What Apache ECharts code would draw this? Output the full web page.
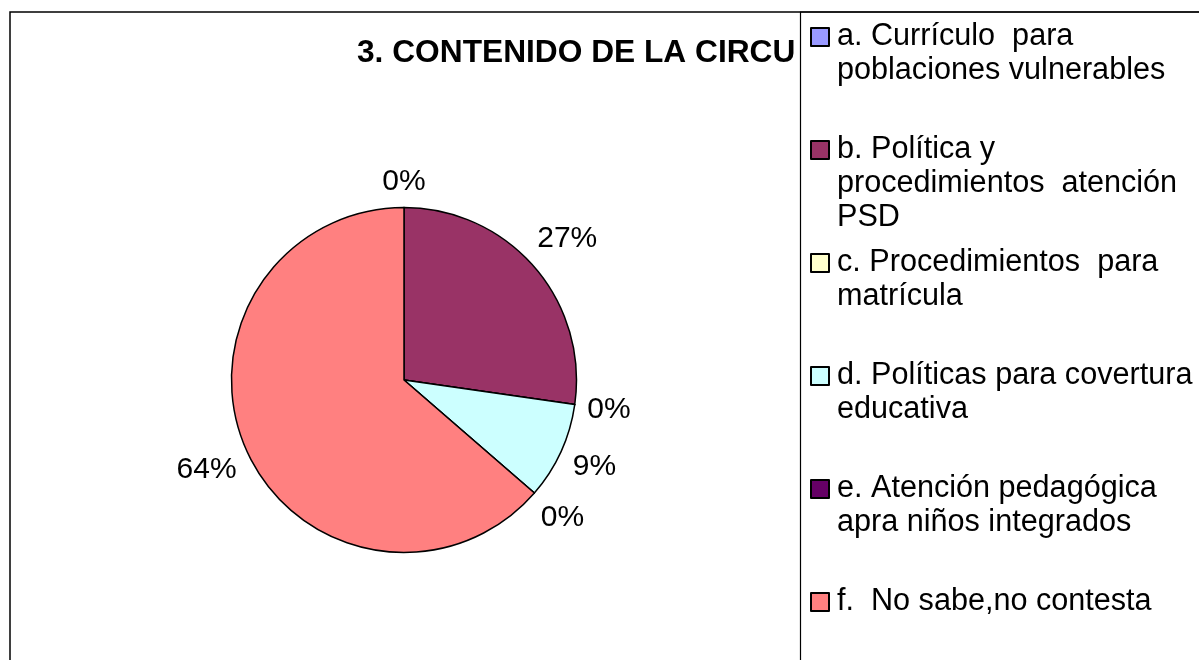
<!DOCTYPE html>
<html>
<head>
<meta charset="utf-8">
<script src="https://cdn.jsdelivr.net/npm/echarts@6/dist/echarts.min.js"></script>
<style>
  html, body { margin: 0; padding: 0; background: #fff; }
  #chart { width: 1199px; height: 660px; }
</style>
</head>
<body>
<div id="chart"></div>
<script>
// data
const categories = [
    "a. Currículo  para\npoblaciones vulnerables",
    "b. Política y\nprocedimientos  atención\nPSD",
    "c. Procedimientos  para\nmatrícula",
    "d. Políticas para covertura\neducativa",
    "e. Atención pedagógica\napra niños integrados",
    "f.  No sabe,no contesta"
];
const counts = [0, 3, 0, 1, 0, 7];
const sliceColors = ["#9999FF", "#993366", "#FFFFCC", "#CCFFFF", "#660066", "#FF8080"];
const titleText = "3. CONTENIDO DE LA CIRCU";

const FONT = "Liberation Sans";
const LINE = 34;        // legend line height
const ROW = 113;        // distance between legend icons
const LABEL_GAP = 11;   // gap between pie edge and label box

const chart = echarts.init(document.getElementById("chart"));

const pieData = categories.map((name, i) => ({
    name: name,
    value: counts[i],
    itemStyle: { color: sliceColors[i] }
}));

// legend text is centred on its icon, so pad every entry to 5 lines
// with the first real line in the middle
const BLANK = "\u00a0";
function legendText(name) {
    const lines = name.split("\n");
    const out = [BLANK, BLANK].concat(lines);
    while (out.length < 5) out.push(BLANK);
    return out.join("\n");
}

chart.setOption({
    animation: false,
    backgroundColor: "#fff",
    title: {
        text: titleText,
        left: 357,
        top: 35,
        padding: 0,
        textStyle: {
            fontFamily: FONT,
            fontWeight: "bold",
            fontSize: 31.7,
            lineHeight: 36,
            color: "#000"
        }
    },
    legend: {
        orient: "vertical",
        left: 810,
        top: 37 - 2.5 * LINE,
        height: 1200,
        padding: 0,
        itemGap: ROW - 5 * LINE,
        itemWidth: 18,
        itemHeight: 18,
        icon: "rect",
        selectedMode: false,
        data: categories,
        formatter: legendText,
        itemStyle: { borderColor: "#000", borderWidth: 2 },
        textStyle: {
            fontFamily: FONT,
            fontSize: 30.6,
            lineHeight: LINE,
            color: "#000",
            padding: [0, 0, 0, 3]
        }
    },
    graphic: [
        {
            type: "rect",
            z: 0,
            silent: true,
            shape: { x: 10, y: 12, width: 1300, height: 800 },
            style: { fill: null, stroke: "#000", lineWidth: 1.5 }
        },
        {
            type: "rect",
            z: 0,
            silent: true,
            shape: { x: 800.5, y: 12, width: 500, height: 800 },
            style: { fill: null, stroke: "#000", lineWidth: 1.2 }
        }
    ],
    series: [{
        type: "pie",
        center: [404, 380],
        radius: 172.5,
        startAngle: 90,
        clockwise: true,
        avoidLabelOverlap: false,
        emphasis: { disabled: true },
        itemStyle: { borderColor: "#000", borderWidth: 1.5 },
        label: {
            show: true,
            position: "outside",
            fontFamily: FONT,
            fontSize: 30,
            color: "#000",
            formatter: p => Math.round(p.percent) + "%"
        },
        labelLine: {
            show: true,
            length: 20,
            length2: 0,
            lineStyle: { opacity: 0 }
        },
        // center each label on the ray through its slice, just off the edge
        labelLayout: function (p) {
            const pts = p.labelLinePoints;
            if (!pts) return {};
            let dx = pts[1][0] - pts[0][0];
            let dy = pts[1][1] - pts[0][1];
            const len = Math.sqrt(dx * dx + dy * dy) || 1;
            dx /= len; dy /= len;
            const w = p.labelRect.width, h = p.labelRect.height;
            const d = LABEL_GAP + Math.abs(dx) * w / 2 + Math.abs(dy) * h / 2;
            return {
                x: pts[0][0] + dx * d,
                y: pts[0][1] + dy * d,
                align: "center",
                verticalAlign: "middle"
            };
        },
        data: pieData
    }]
});
</script>
</body>
</html>
